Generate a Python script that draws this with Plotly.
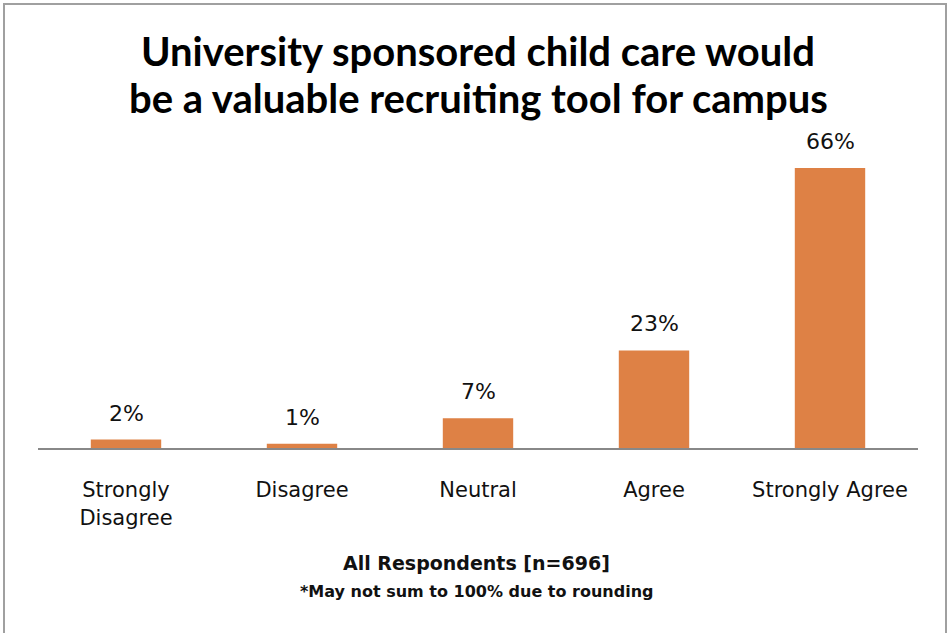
import plotly.graph_objects as go

categories = ["Strongly<br>Disagree", "Disagree", "Neutral", "Agree", "Strongly Agree"]
values = [2, 1, 7, 23, 66]
labels = ["2%", "1%", "7%", "23%", "66%"]

title_lines = ["University sponsored child care would", "be a valuable recruiting tool for campus"]
note1 = "All Respondents [n=696]"
note2 = "*May not sum to 100% due to rounding"

bar_color = "#DE8145"
font_title = "Lato, 'Open Sans', sans-serif"
font_body = "'DejaVu Sans', sans-serif"

fig = go.Figure()
fig.add_trace(go.Bar(
    x=categories, y=values, marker=dict(color=bar_color, line=dict(width=0)),
    width=0.4, hoverinfo="skip", cliponaxis=False,
))

for c, v, t in zip(categories, values, labels):
    fig.add_annotation(x=c, y=v, text=t, showarrow=False, yanchor="bottom",
                       yshift=12, font=dict(size=22, color="#111111", family=font_body))

W, H = 952, 633
ml, mr, mt, mb = 38, 34, 151, 185
pw, ph = W - ml - mr, H - mt - mb

def px2paper_x(px):
    return (px - ml) / pw

def px2paper_y(py):
    return (H - mb - py) / ph

for line, cy in zip(title_lines, [51, 98]):
    fig.add_annotation(xref="paper", yref="paper", x=px2paper_x(478), y=px2paper_y(cy),
                       text="<b>" + line + "</b>", showarrow=False,
                       font=dict(size=40, color="#000000", family=font_title), align="center",
                       yanchor="middle")
fig.add_annotation(xref="paper", yref="paper", x=px2paper_x(476), y=px2paper_y(563),
                   text="<b>" + note1 + "</b>", showarrow=False,
                   font=dict(size=19, color="#111111", family=font_body), yanchor="middle")
fig.add_annotation(xref="paper", yref="paper", x=px2paper_x(476), y=px2paper_y(591),
                   text="<b>" + note2 + "</b>", showarrow=False,
                   font=dict(size=16, color="#111111", family=font_body), yanchor="middle")

fig.add_shape(type="rect", xref="paper", yref="paper",
              x0=px2paper_x(4), x1=px2paper_x(946), y0=px2paper_y(640), y1=px2paper_y(4),
              line=dict(color="#A0A0A0", width=2), fillcolor="rgba(0,0,0,0)", layer="below")

fig.update_layout(
    width=W, height=H,
    margin=dict(l=ml, r=mr, t=mt, b=mb),
    plot_bgcolor="white", paper_bgcolor="white",
    showlegend=False,
    font=dict(family=font_body, color="#111111"),
    xaxis=dict(showline=True, linecolor="#888888", linewidth=2, ticks="",
               tickfont=dict(size=21, color="#111111", family=font_body),
               ticklabelstandoff=22, showgrid=False, zeroline=False),
    yaxis=dict(range=[0, 70], visible=False, showgrid=False, zeroline=False),
)

fig.write_html("out.html", config={"displayModeBar": False},
               post_script="document.body.style.margin='0';")
